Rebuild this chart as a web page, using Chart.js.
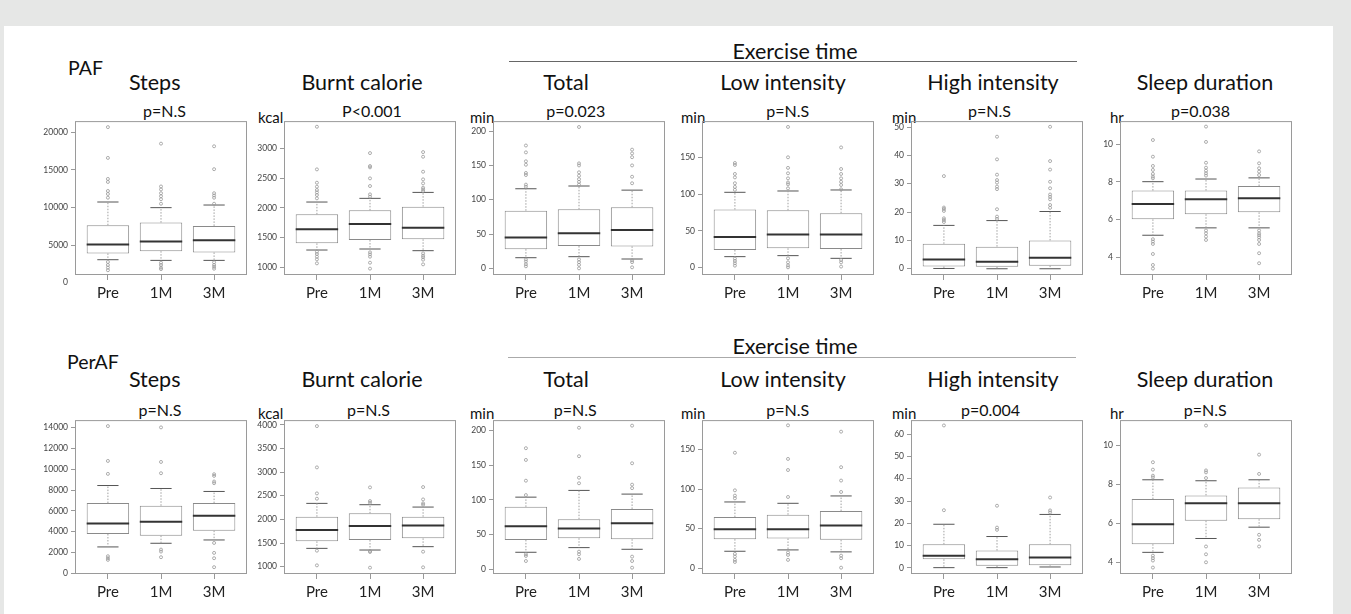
<!DOCTYPE html>
<html>
<head>
<meta charset="utf-8">
<script src="https://cdn.jsdelivr.net/npm/chart.js@4.4.1/dist/chart.umd.min.js"></script>
<style>
  html, body { margin:0; padding:0; }
  body { width:1351px; height:614px; background:#e6e7e6; position:relative; overflow:hidden; font-family:Lato, "Open Sans", sans-serif; color:#111; }
  #sheet { position:absolute; left:4px; top:26px; width:1329px; height:588px; background:#fff; }
  .t { position:absolute; transform:translate(-50%,-50%); white-space:nowrap; line-height:1; }
  .l { position:absolute; transform:translateY(-50%); white-space:nowrap; line-height:1; }
  .title { font-size:21.5px; }
  .pv { font-size:16px; }
  .unit { font-size:15px; }
  .grp { font-size:19.5px; }
  .rule { position:absolute; height:0; }
  canvas { position:absolute; }
</style>
</head>
<body>
<div id="sheet"></div>
<script>
const groups = ['Pre', '1M', '3M'];
const titles = ['Steps', 'Burnt calorie', 'Total', 'Low intensity', 'High intensity', 'Sleep duration'];
const units = ['', 'kcal', 'min', 'min', 'min', 'hr'];
const pafP = ['p=N.S', 'P<0.001', 'p=0.023', 'p=N.S', 'p=N.S', 'p=0.038'];
const perP = ['p=N.S', 'p=N.S', 'p=N.S', 'p=N.S', 'p=0.004', 'p=N.S'];

// box stats per group: [lower whisker, Q1, median, Q3, upper whisker]
// PAF
const pafStepsBox = [[3050,3890,5080,7640,10730],[2960,4190,5470,7990,9980],[2960,4020,5650,7550,10330]];
const pafStepsOut = [[20700,16600,13800,13400,12200,11800,11300,2750,2350,2000,1650],
                     [18500,12800,12400,11900,11500,11100,10500,2650,2350,2000,1800],
                     [18150,15100,11900,11600,11300,10500,2700,2350,2100,1850]];
const pafCalBox = [[1291,1403,1639,1891,2098],[1308,1459,1728,1958,2160],[1280,1471,1667,2020,2260]];
const pafCalOut = [[3364,2647,2423,2356,2300,2260,2216,2160,1263,1224,1179,1134,1067],
                   [2921,2703,2681,2496,2367,2227,2188,1252,1218,1179,1078,978],
                   [2938,2860,2608,2479,2412,2339,2311,2283,1235,1196,1168,1129,1050]];
const pafTotalBox = [[15.5,28,45,84,116],[17,32.5,51,86,120],[13.6,32,56,89,114]];
const pafTotalOut = [[179,169,156,151,139,136,122,119,13,10,6,3],
                     [206,153,150,140,135,130,126,122,13,9,5,0],
                     [173,167.5,162,150,133.5,124,11.7,9,1.5]];
const pafLowBox = [[14.6,23.7,41.5,79,102.6],[16,26,45,78,104.4],[12.3,25,45,74,105.8]];
const pafLowOut = [[142.7,140,127.7,123,115,110,106,11.9,8.7,5.5,2.3],
                   [192,150.5,136,128.6,121.7,116,113.5,108,12.3,6.8,2.7,0],
                   [164,134.5,127.7,121.7,117,112.6,106.7,10,6.8,1]];
const pafHighBox = [[0.1,0.8,3.3,8.8,15.3],[0,0.7,2.5,7.8,17],[0,1.1,3.9,10,20.2]];
const pafHighOut = [[32.7,21.6,21.1,20.4,17.8,17.2,16.5],
                    [46.6,38.6,33.2,31.3,30.4,29,28.1,21,18.4,17.6],
                    [50.1,38,35,30.7,28.4,26.2,25.4,24.5,22.5,21.5]];
const pafSleepBox = [[5.18,6.02,6.83,7.54,8.01],[5.57,6.29,7.08,7.54,8.15],[5.57,6.39,7.13,7.78,8.21]];
const pafSleepOut = [[10.21,9.33,8.84,8.63,8.42,8.28,8.19,4.97,4.85,4.72,4.19,3.61,3.42],
                     [10.92,10.11,9.01,8.75,8.59,8.45,8.33,5.43,5.28,5.11,4.93],
                     [9.61,8.98,8.72,8.54,8.36,5.43,5.28,5.18,5.07,4.93,4.72,4.23,3.7]];
// PerAF
const perStepsBox = [[2545,3786,4800,6745,8430],[2895,3627,4963,6490,8145],[3213,4104,5536,6745,7860]];
const perStepsOut = [[14126,10786,9545,1654,1463,1304],[14000,10690,9609,2290,2100,1560],[9513,9354,8813,8654,2927,1973,1463,605]];
const perCalBox = [[1387,1535,1775,2056,2338],[1352,1563,1859,2127,2310],[1423,1599,1873,2056,2260]];
const perCalOut = [[3972,3099,2549,2437,1338,1028],[2676,2387,2352,1331,1310,979],[2683,2422,2338,2310,1317,986]];
const perTotalBox = [[24.6,42.4,62,90,104],[31.3,44.8,58.8,72.3,113.7],[28.9,43.4,66.5,87,108.4]];
const perTotalOut = [[174.5,157.6,127.7,107,21.7,19.3,12],[204,163,132,124,25.5,21.7,15],[207,152.8,122,117,18.3,12,2.4]];
const perLowBox = [[21.5,36.8,49.4,64.6,83.7],[23.2,37.6,49.4,67.6,82],[20.7,35.9,54.1,72.2,91.3]];
const perLowOut = [[145.8,98.4,91.7,88.3,18.2,14.8,10.6,8],[180.4,138,124,90,19.9,16.9,10.6],[172.4,127.6,110.7,96.3,16,12.7,0.8]];
const perHighBox = [[0.15,3.9,5.5,10.6,19.6],[0.15,1.05,3.9,7.8,14.1],[0.45,1.2,4.65,10.6,24]];
const perHighOut = [[63.9,25.9],[27.9,18.1,17.1],[31.6,25.8,24.9]];
const perSleepBox = [[4.51,4.93,5.95,7.24,8.23],[5.22,6.13,7.03,7.43,8.18],[5.8,6.21,7.03,7.84,8.23]];
const perSleepOut = [[9.13,8.75,8.44,8.35,4.34,4.21,4.09,3.73],[11.01,8.71,8.61,8.32,4.81,4.41,4.0],[9.52,8.53,5.41,5.15,4.81]];

// y tick values per panel
const stepsTicksA = [0,5000,10000,15000,20000];
const stepsTicksB = [0,2000,4000,6000,8000,10000,12000,14000];
const calTicksA = [1000,1500,2000,2500,3000];
const calTicksB = [1000,1500,2000,2500,3000,3500,4000];
const totalTicks = [0,50,100,150,200];
const lowTicks = [0,50,100,150];
const highTicksA = [0,10,20,30,40,50];
const highTicksB = [0,10,20,30,40,50,60];
const sleepTicks = [4,6,8,10];

// layout
const plotX = [75, 284, 493, 702, 911, 1120];
const plotY = [121, 420];
const PW = 172, PH = 154;
const padL = 45, padT = 8, padR = 8, padB = 36;

const panels = [
  { row:0, col:0, box:pafStepsBox, out:pafStepsOut, min:1015, max:21500, ticks:stepsTicksA },
  { row:0, col:1, box:pafCalBox, out:pafCalOut, min:871, max:3459, ticks:calTicksA },
  { row:0, col:2, box:pafTotalBox, out:pafTotalOut, min:-9.7, max:214.6, ticks:totalTicks },
  { row:0, col:3, box:pafLowBox, out:pafLowOut, min:-10.5, max:200, ticks:lowTicks },
  { row:0, col:4, box:pafHighBox, out:pafHighOut, min:-2.2, max:52.1, ticks:highTicksA },
  { row:0, col:5, box:pafSleepBox, out:pafSleepOut, min:3.08, max:11.21, ticks:sleepTicks },
  { row:1, col:0, box:perStepsBox, out:perStepsOut, min:-50, max:14700, ticks:stepsTicksB },
  { row:1, col:1, box:perCalBox, out:perCalOut, min:845, max:4099, ticks:calTicksB },
  { row:1, col:2, box:perTotalBox, out:perTotalOut, min:-6.7, max:215, ticks:totalTicks },
  { row:1, col:3, box:perLowBox, out:perLowOut, min:-7.2, max:187, ticks:lowTicks },
  { row:1, col:4, box:perHighBox, out:perHighOut, min:-2.7, max:66.3, ticks:highTicksB },
  { row:1, col:5, box:perSleepBox, out:perSleepOut, min:3.4, max:11.29, ticks:sleepTicks }
];

function addText(cls, txt, x, y, centered) {
  const d = document.createElement('div');
  d.className = (centered === false ? 'l ' : 't ') + cls;
  d.textContent = txt;
  d.style.left = x + 'px';
  d.style.top = y + 'px';
  document.body.appendChild(d);
}
function addRule(x1, x2, y, color) {
  const d = document.createElement('div');
  d.className = 'rule';
  d.style.left = x1 + 'px';
  d.style.width = (x2 - x1) + 'px';
  d.style.top = y + 'px';
  d.style.borderTop = '1px solid ' + color;
  document.body.appendChild(d);
}

// headings
const titleX = [154.7, 362, 566, 783, 993, 1205];
const pX = [[164.5, 372, 575.8, 787.8, 989.5, 1200.5], [160, 368.5, 575.3, 787.8, 990.5, 1205.3]];
const unitX = [0, 258, 470, 681, 892, 1110];
const rowTitleY = [82.7, 380], rowPY = [110.7, 410], rowUnitY = [116.7, 413];
addText('grp', 'PAF', 68, 68, false);
addText('grp', 'PerAF', 67, 362, false);
addText('title', 'Exercise time', 795, 52, true);
addText('title', 'Exercise time', 795, 346.5, true);
addRule(509, 1077, 61, '#666');
addRule(508, 1076, 357, '#aaa');
[0, 1].forEach(r => {
  titles.forEach((t, c) => {
    addText('title', t, titleX[c], rowTitleY[r], true);
    addText('pv', (r ? perP : pafP)[c], pX[r][c], rowPY[r], true);
    if (units[c]) addText('unit', units[c], unitX[c], rowUnitY[r], false);
  });
});

const framePlugin = {
  id: 'frame',
  afterDraw(chart) {
    const a = chart.chartArea, ctx = chart.ctx;
    ctx.save();
    ctx.strokeStyle = '#9a9a9a';
    ctx.lineWidth = 1;
    ctx.strokeRect(a.left + 0.5, a.top + 0.5, a.right - a.left - 1, a.bottom - a.top - 1);
    ctx.restore();
  }
};

panels.forEach(p => {
  const cv = document.createElement('canvas');
  const w = padL + PW + padR, h = padT + PH + padB;
  cv.width = w; cv.height = h;
  cv.style.width = w + 'px'; cv.style.height = h + 'px';
  cv.style.left = (plotX[p.col] - padL) + 'px';
  cv.style.top = (plotY[p.row] - padT) + 'px';
  document.body.appendChild(cv);

  const whisk = [], staple = [], median = [], outs = [];
  p.box.forEach((b, i) => {
    const x = i + 1;
    whisk.push({x, y:b[3]}, {x, y:b[4]}, {x, y:null}, {x, y:b[1]}, {x, y:b[0]}, {x, y:null});
    staple.push({x:x-0.2, y:b[4]}, {x:x+0.2, y:b[4]}, {x, y:null}, {x:x-0.2, y:b[0]}, {x:x+0.2, y:b[0]}, {x, y:null});
    median.push({x:x-0.4, y:b[2]}, {x:x+0.4, y:b[2]}, {x, y:null});
    p.out[i].forEach(v => outs.push({x, y:v}));
  });

  new Chart(cv, {
    type: 'bar',
    data: {
      datasets: [
        { type:'bar', data: p.box.map((b, i) => ({x:i+1, y:[b[1], b[3]]})),
          backgroundColor:'#fff', borderColor:'#8a8a8a', borderWidth:1, borderSkipped:false,
          barPercentage:1, categoryPercentage:0.8, order:3 },
        { type:'line', data:whisk, borderColor:'#a0a0a0', borderWidth:1, borderDash:[1.5,1.5], pointRadius:0, spanGaps:false, order:2 },
        { type:'line', data:staple, borderColor:'#555', borderWidth:1, pointRadius:0, spanGaps:false, order:2 },
        { type:'line', data:median, borderColor:'#333', borderWidth:2, pointRadius:0, spanGaps:false, order:1 },
        { type:'line', data:outs, showLine:false, pointRadius:1.5, pointBorderWidth:0.8,
          pointBorderColor:'#999', pointBackgroundColor:'rgba(0,0,0,0)', order:0 }
      ]
    },
    options: {
      responsive:false, animation:false,
      layout: { padding: { top:padT, right:padR, left:0, bottom:0 } },
      plugins: { legend:{display:false}, tooltip:{enabled:false} },
      scales: {
        x: {
          type:'linear', min:0.38, max:3.62, offset:false,
          afterFit: s => { s.height = padB; },
          afterBuildTicks: s => { s.ticks = [1,2,3].map(v => ({value:v})); },
          grid: { display:true, drawOnChartArea:false, drawTicks:true, tickLength:5, color:'#999', offset:false },
          border: { display:false },
          ticks: { autoSkip:false, padding:4, color:'#222', font:{family:'Lato', size:15},
                   callback: v => groups[v - 1] }
        },
        y: {
          min:p.min, max:p.max,
          afterFit: s => { s.width = padL; },
          afterBuildTicks: s => { s.ticks = p.ticks.map(v => ({value:v})); },
          grid: { display:true, drawOnChartArea:false, drawTicks:true, tickLength:4,
                  color: c => (c.tick && c.tick.value < p.min) ? 'rgba(0,0,0,0)' : '#999' },
          border: { display:false },
          ticks: { autoSkip:false, padding:3, color:'#444', font:{family:'Lato', size:8.5},
                   callback: v => String(v) }
        }
      }
    },
    plugins: [framePlugin]
  });
});
</script>
</body>
</html>
